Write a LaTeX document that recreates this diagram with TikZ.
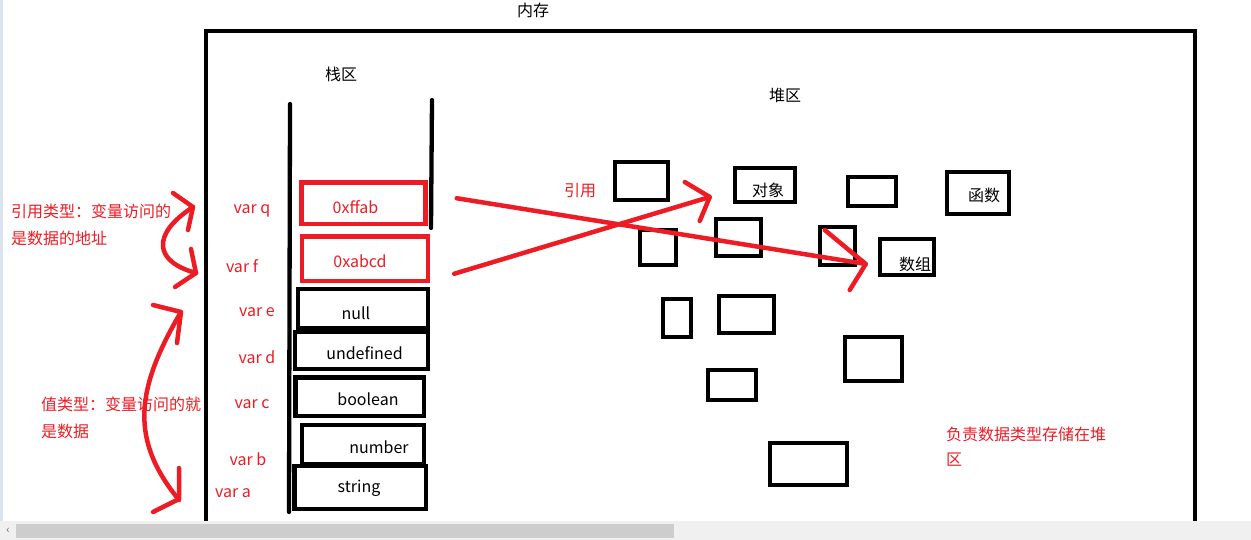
\documentclass[tikz,border=0pt]{standalone}
\usepackage{fontspec}
\setmainfont{Noto Sans CJK SC}
\usetikzlibrary{calc,fit}
\definecolor{pred}{HTML}{ED1C24}
\definecolor{sbbg}{HTML}{F0F0F0}
\definecolor{sbthumb}{HTML}{CDCDCD}
\definecolor{edgeblue}{HTML}{DAE3F0}
\begin{document}
\begin{tikzpicture}[x=1pt,y=-1pt,
  txt/.style={inner sep=0pt, font=\fontsize{16}{19}\selectfont},
  rtxt/.style={txt, text=pred},
  hbox/.style={draw=black, line width=4.5pt, inner sep=0pt},
  rbox/.style={draw=pred, line width=4.5pt, inner sep=0pt},
  sline/.style={line width=4.3pt, line cap=round},
  rstroke/.style={draw=pred, line width=4.5pt, line cap=round, line join=round}]
\fill[white] (0,0) rectangle (1251,540);
\useasboundingbox (0,0) rectangle (1251,540);
\fill[edgeblue] (0,0) rectangle (3,521);

% memory frame
\draw[line width=4pt] (206,545) -- (206,31) -- (1195,31) -- (1195,545);
\node[txt] (mem) at (533,10) {内存};
\node[txt] (stacklbl) at (341,74) {栈区};
\node[txt] (heaplbl) at (785,95) {堆区};

% stack walls
\draw[sline] (290,104) -- (289,512);
\draw[sline] (432,100) -- (431,228);

% stack boxes
\node[rbox, fit={(301.5,182.5) (425.5,224)}] (sq) {};
\node[rbox, fit={(302,236.5) (428,281)}] (sf) {};
\node[hbox, fit={(298,289) (428,328)}] (se) {};
\node[hbox, fit={(295,332) (428,369)}] (sd) {};
\node[hbox, fit={(295.5,377.5) (424,416)}] (sc) {};
\node[hbox, fit={(302,425) (424,464)}] (sb) {};
\node[hbox, fit={(294.5,466) (426,509)}] (sa) {};

\node[rtxt] (tq) at (355.5,207) {0xffab};
\node[rtxt] (tf) at (360,261) {0xabcd};
\node[txt] (te) at (356,313) {null};
\node[txt] (td) at (364.5,353) {undefined};
\node[txt] (tc) at (368,399) {boolean};
\node[txt] (tb) at (379,447) {number};
\node[txt] (ta) at (359,488) {string};

% var labels
\node[rtxt] (vq) at (252,211) {var q};
\node[rtxt] (vf) at (242,266) {var f};
\node[rtxt] (ve) at (257,312) {var e};
\node[rtxt] (vd) at (257,357) {var d};
\node[rtxt] (vc) at (252,404) {var c};
\node[rtxt] (vb) at (248,459) {var b};
\node[rtxt] (va) at (233,493) {var a};

% left annotations
\node[rtxt, anchor=west] (n1) at (11,211) {引用类型：变量访问的};
\node[rtxt, anchor=west] (n2) at (11,238) {是数据的地址};
\node[rtxt, anchor=west] (n3) at (41,404) {值类型：变量访问的就};
\node[rtxt, anchor=west] (n4) at (41,431) {是数据};

% curved double arrows
\draw[rstroke] (173,193) -- (193,207) -- (188,230);
\draw[rstroke] (193,207) .. controls (150,235) and (155,262) .. (196,273);
\draw[rstroke] (191,249) -- (196,273) -- (175,287);
\draw[rstroke] (153,305) -- (181,312) -- (177,343);
\draw[rstroke] (181,312) .. controls (135,390) and (130,440) .. (179,500);
\draw[rstroke] (179,468) -- (179,499) -- (153,512);

% heap boxes
\node[hbox, fit={(615,162) (668,200)}] (h1) {};
\node[hbox, fit={(735,168) (795,202)}] (hobj) {};
\node[hbox, fit={(848,177) (896,206)}] (h3) {};
\node[hbox, fit={(947,172) (1009,214)}] (hfun) {};
\node[hbox, fit={(640,230) (676,265)}] (h5) {};
\node[hbox, fit={(716,219) (761,256)}] (h6) {};
\node[hbox, fit={(820,227) (855,265)}] (h7) {};
\node[hbox, fit={(880,239) (934,275)}] (harr) {};
\node[hbox, fit={(663,299) (691,337)}] (h9) {};
\node[hbox, fit={(719,296) (774,333)}] (h10) {};
\node[hbox, fit={(845,337) (902,381)}] (h11) {};
\node[hbox, fit={(708,370) (756,400)}] (h12) {};
\node[hbox, fit={(770,443) (847,485)}] (h13) {};

\node[txt] (tobj) at (768,190) {对象};
\node[txt] (tfun) at (984,195) {函数};
\node[txt] (tarr) at (915,264) {数组};

\node[rtxt] (yy) at (580,191) {引用};

% reference arrows
\coordinate (a1s) at ($(sq.east)+(29,-5)$);
\coordinate (a1t) at ($(harr.west)+(-12,7)$);
\coordinate (a2s) at ($(sf.east)+(24,15)$);
\coordinate (a2t) at ($(hobj.west)+(-23,12)$);
\draw[rstroke] (a1s) -- (a1t);
\draw[rstroke] ($(a1t)+(-41,-34)$) -- (a1t) -- ($(a1t)+(-16,26)$);
\draw[rstroke] (a2s) -- (a2t);
\draw[rstroke] ($(a2t)+(-25,-15)$) -- (a2t) -- ($(a2t)+(-10,24)$);

% heap note
\node[rtxt, anchor=west] (hn1) at (946,434) {负责数据类型存储在堆};
\node[rtxt, anchor=west] (hn2) at (946,460) {区};

% scrollbar
\fill[sbbg] (0,521) rectangle (1251,540);
\fill[sbthumb] (16,524) rectangle (674,538);
\node[inner sep=0pt, text=black!60, font=\fontsize{11}{12}\selectfont] (sbl) at (8,531) {‹};
\end{tikzpicture}
\end{document}
